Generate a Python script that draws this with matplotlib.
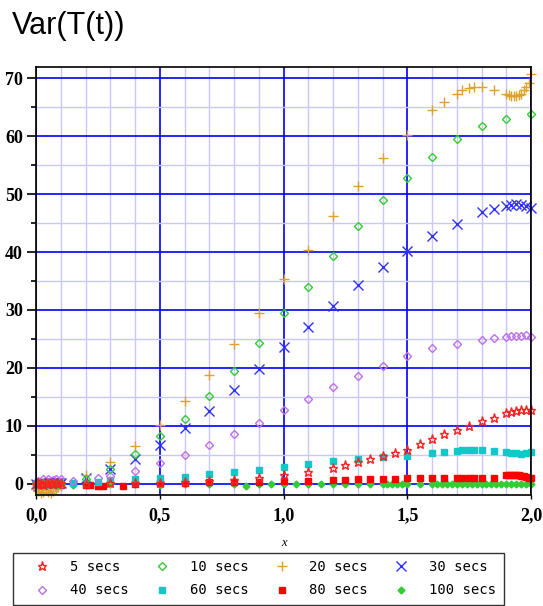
#!/usr/bin/env python3
"""Var(T(t)) scatter for several averaging windows, Maple-style grid."""

import matplotlib

matplotlib.use("Agg")
import matplotlib.pyplot as plt
from matplotlib.font_manager import FontProperties
from matplotlib.ticker import MultipleLocator

# dense cluster of samples near t = 0 (shared by every series)
X_NEAR = [0.0, 0.01, 0.02, 0.03, 0.04, 0.05, 0.06, 0.07, 0.08, 0.09, 0.10]

X_5 = X_NEAR + [0.2, 0.3, 0.4, 0.5, 0.6, 0.7, 0.8, 0.9, 1.0, 1.1, 1.2, 1.25, 1.3, 1.35, 1.4, 1.45,
                1.5, 1.55, 1.6, 1.65, 1.7, 1.75, 1.8, 1.85, 1.9, 1.92, 1.94, 1.96, 1.98, 2.0]
Y_5 = [0.0, 0.1, 0.0, -0.1, 0.1, 0.0, 0.1, 0.0, 0.1, 0.0, 0.1] + \
      [0.0, 0.1, 0.2, 0.2, 0.4, 0.5, 0.7, 1.0, 1.5, 2.0, 2.8, 3.2, 3.8, 4.3, 4.9, 5.3,
       5.9, 6.9, 7.7, 8.6, 9.3, 10.0, 10.9, 11.4, 12.2, 12.4, 12.6, 12.7, 12.8, 12.8]

X_10 = X_NEAR + [0.2, 0.3, 0.4, 0.5, 0.6, 0.7, 0.8, 0.9, 1.0, 1.1, 1.2, 1.3, 1.4, 1.5, 1.6, 1.7,
                 1.8, 1.9, 2.0]
Y_10 = [0.1, -0.2, 0.0, 0.2, -0.1, 0.1, 0.0, 0.2, -0.1, 0.0, 0.1] + \
       [0.8, 2.6, 5.2, 8.2, 11.2, 15.2, 19.4, 24.3, 29.4, 33.9, 39.3, 44.4, 49.0, 52.7, 56.4, 59.4,
        61.8, 63.0, 63.8]

X_20 = X_NEAR + [0.2, 0.3, 0.4, 0.5, 0.6, 0.7, 0.8, 0.9, 1.0, 1.1, 1.2, 1.3, 1.4, 1.5, 1.6, 1.65,
                 1.7, 1.72, 1.75, 1.77, 1.8, 1.85, 1.9, 1.91, 1.92, 1.93, 1.94, 1.95, 1.96, 1.97,
                 1.98, 1.99, 2.0]
Y_20 = [-0.8, -1.2, -1.5, -1.4, -1.0, -1.3, -1.6, -1.2, -0.9, -0.6, -0.3] + \
       [1.6, 3.8, 6.5, 10.2, 14.3, 18.8, 24.2, 29.4, 35.3, 40.3, 46.2, 51.4, 56.2, 60.1, 64.4, 65.9,
        67.2, 67.9, 68.2, 68.4, 68.5, 67.9, 67.3, 67.0, 66.9, 66.9, 66.9, 67.0, 67.3, 67.9,
        68.4, 69.1, 70.7]

X_30 = X_NEAR + [0.2, 0.3, 0.4, 0.5, 0.6, 0.7, 0.8, 0.9, 1.0, 1.1, 1.2, 1.3, 1.4, 1.5, 1.6, 1.7,
                 1.8, 1.85, 1.9, 1.92, 1.94, 1.96, 1.98, 2.0]
Y_30 = [0.0, -0.3, 0.1, -0.2, 0.0, 0.2, -0.1, 0.1, 0.0, 0.1, 0.2] + \
       [1.0, 2.5, 4.3, 6.7, 9.6, 12.5, 16.2, 19.8, 23.7, 27.1, 30.7, 34.3, 37.5, 40.2, 42.8, 44.9,
        46.9, 47.4, 48.0, 48.1, 48.2, 48.1, 48.0, 47.6]

X_40 = X_NEAR + [0.15, 0.25, 0.3, 0.4, 0.5, 0.6, 0.7, 0.8, 0.9, 1.0, 1.1, 1.2, 1.3, 1.4, 1.5, 1.6,
                 1.7, 1.8, 1.85, 1.9, 1.92, 1.94, 1.96, 1.98, 2.0]
Y_40 = [0.3, 0.6, 0.4, 0.8, 0.5, 0.9, 0.6, 0.7, 0.9, 0.5, 0.8] + \
       [0.5, 1.0, 1.3, 2.3, 3.7, 5.0, 6.7, 8.7, 10.6, 12.8, 14.7, 16.7, 18.6, 20.3, 22.1, 23.5,
        24.1, 24.9, 25.2, 25.4, 25.6, 25.6, 25.6, 25.7, 25.4]

X_60 = X_NEAR + [0.15, 0.25, 0.3, 0.4, 0.5, 0.6, 0.7, 0.8, 0.9, 1.0, 1.1, 1.2, 1.3, 1.4, 1.5, 1.6,
                 1.65, 1.7, 1.72, 1.75, 1.77, 1.8, 1.85, 1.9, 1.92, 1.94, 1.96, 1.98, 2.0]
Y_60 = [0.0, 0.1, -0.1, 0.0, 0.1, 0.0, -0.1, 0.1, 0.0, 0.1, 0.0] + \
       [0.2, 0.4, 0.7, 0.8, 1.0, 1.15, 1.7, 2.1, 2.4, 3.0, 3.4, 4.0, 4.3, 4.7, 4.9, 5.4,
        5.6, 5.7, 5.8, 5.8, 5.9, 5.8, 5.7, 5.6, 5.4, 5.3, 5.2, 5.4, 5.6]

X_80 = X_NEAR + [0.2, 0.22, 0.25, 0.27, 0.35, 0.4, 0.5, 0.6, 0.7, 0.8, 0.9, 1.0, 1.1, 1.2, 1.25,
                 1.3, 1.35, 1.4, 1.45, 1.5, 1.55, 1.6, 1.65, 1.7, 1.72, 1.75, 1.77, 1.8, 1.85,
                 1.9, 1.91, 1.92, 1.93, 1.94, 1.95, 1.96, 1.97, 1.98, 1.99, 2.0]
Y_80 = [0.0, 0.0, 0.1, 0.0, -0.1, 0.0, 0.0, 0.1, 0.0, 0.0, -0.1] + \
       [-0.2, -0.2, -0.3, -0.3, -0.3, 0.0, 0.1, 0.2, 0.3, 0.3, 0.4, 0.5, 0.6, 0.7, 0.7,
        0.8, 0.8, 0.8, 0.8, 1.1, 1.1, 1.1, 1.1, 1.1, 1.1, 1.1, 1.1, 1.1, 1.1,
        1.5, 1.5, 1.5, 1.5, 1.5, 1.5, 1.4, 1.3, 1.2, 1.1, 1.0]

X_100 = X_NEAR + [0.15, 0.2, 0.3, 0.4, 0.5, 0.6, 0.7, 0.8, 0.85, 0.9, 0.95, 1.0, 1.05, 1.1, 1.15,
                  1.2, 1.25, 1.3, 1.35, 1.4, 1.42, 1.44, 1.46, 1.48, 1.5, 1.55, 1.6, 1.62, 1.64,
                  1.66, 1.68, 1.7, 1.72, 1.74, 1.76, 1.78, 1.8, 1.82, 1.84, 1.86, 1.88, 1.9,
                  1.92, 1.94, 1.96, 1.98, 2.0]
Y_100 = [0.0, -0.1, 0.0, 0.1, 0.0, -0.1, 0.0, 0.0, 0.1, 0.0, 0.0] + \
        [-0.2, -0.1, 0.0, 0.0, -0.1, 0.0, 0.0, 0.0, -0.3, 0.0, 0.0, 0.0, 0.0, 0.0, 0.0,
         0.0, 0.0, 0.0, 0.0, 0.0, 0.0, 0.0, 0.0, 0.0, 0.0, 0.0, 0.0, 0.0, 0.0,
         0.0, 0.0, 0.0, 0.0, 0.0, 0.0, 0.0, 0.0, 0.0, 0.0, 0.0, 0.0, 0.0,
         0.0, 0.0, 0.0, 0.0, 0.0]

LABELS = ["5 secs", "10 secs", "20 secs", "30 secs", "40 secs", "60 secs", "80 secs", "100 secs"]

XTICKS = [0.0, 0.5, 1.0, 1.5, 2.0]
XTICK_LABELS = ["0,0", "0,5", "1,0", "1,5", "2,0"]
YTICKS = [0, 10, 20, 30, 40, 50, 60, 70]
YTICK_LABELS = ["0", "10", "20", "30", "40", "50", "60", "70"]

# marker, size, colour, filled
STYLES = [
    ("*", 6.5, "#ff2020", False),
    ("D", 4.0, "#33cc33", False),
    ("+", 7.5, "#e0a030", False),
    ("x", 6.5, "#3030ff", False),
    ("D", 4.5, "#c070e8", False),
    ("s", 5.0, "#10c8c8", True),
    ("s", 3.8, "#ff0000", True),
    ("D", 3.5, "#33cc33", True),
]

W, H = 543, 606


def main() -> None:
    fig = plt.figure(figsize=(W / 100, H / 100), dpi=100)
    ax = fig.add_axes([36 / W, 1 - 495 / H, (531 - 36) / W, (495 - 67) / H])

    series = [(X_5, Y_5), (X_10, Y_10), (X_20, Y_20), (X_30, Y_30),
              (X_40, Y_40), (X_60, Y_60), (X_80, Y_80), (X_100, Y_100)]
    handles = [None] * len(series)
    for i in reversed(range(len(series))):
        xs, ys = series[i]
        marker, size, color, filled = STYLES[i]
        (line,) = ax.plot(xs, ys, linestyle="none", marker=marker, markersize=size,
                          markeredgecolor=color, markerfacecolor=color if filled else "none",
                          markeredgewidth=1.0, label=LABELS[i], zorder=3, clip_on=False)
        handles[i] = line

    ax.set_xlim(0.0, 2.0)
    ax.set_ylim(-1.9, 71.9)
    ax.set_xticks(XTICKS, XTICK_LABELS)
    ax.set_yticks(YTICKS, YTICK_LABELS)
    ax.xaxis.set_minor_locator(MultipleLocator(0.1))
    ax.yaxis.set_minor_locator(MultipleLocator(5))
    ax.set_axisbelow(True)
    ax.grid(which="minor", color="#c8c8ff", linewidth=1.0)
    ax.grid(which="major", color="#0000ff", linewidth=1.2)
    for spine in ax.spines.values():
        spine.set_color("black")
        spine.set_linewidth(1.2)
        spine.set_zorder(4)

    tick_font = FontProperties(family="Liberation Serif", weight="bold", size=13)
    for lab in ax.get_xticklabels() + ax.get_yticklabels():
        lab.set_fontproperties(tick_font)
    ax.tick_params(axis="y", which="major", direction="out", length=6.5, width=1.2, pad=3)
    ax.tick_params(axis="y", which="minor", direction="out", length=3.5, width=1.2)
    ax.tick_params(axis="x", which="major", direction="out", length=3, width=1.0, pad=6)
    ax.tick_params(axis="x", which="minor", length=0)

    ax.set_xlabel("x", fontstyle="italic", fontsize=9, family="Liberation Serif", labelpad=9)

    fig.text(12 / W, 1 - 34 / H, "Var(T(t))", fontsize=22, family="Liberation Sans",
             va="baseline", ha="left")

    # legend fills column by column, so interleave the two rows
    leg_order = [0, 4, 1, 5, 2, 6, 3, 7]
    leg = fig.legend(handles=[handles[i] for i in leg_order],
                     labels=[LABELS[i] for i in leg_order], ncol=4, loc="lower left",
                     bbox_to_anchor=(13 / W, 1 / H), frameon=True, fancybox=False,
                     prop={"family": "DejaVu Sans Mono", "size": 10}, numpoints=1,
                     handlelength=3.1, handletextpad=0.45, columnspacing=0.85,
                     borderpad=0.55, labelspacing=0.65, borderaxespad=0)
    leg.get_frame().set_edgecolor("black")
    leg.get_frame().set_linewidth(1.0)

    fig.savefig("out.png", dpi=100)
    plt.close(fig)


if __name__ == "__main__":
    main()
